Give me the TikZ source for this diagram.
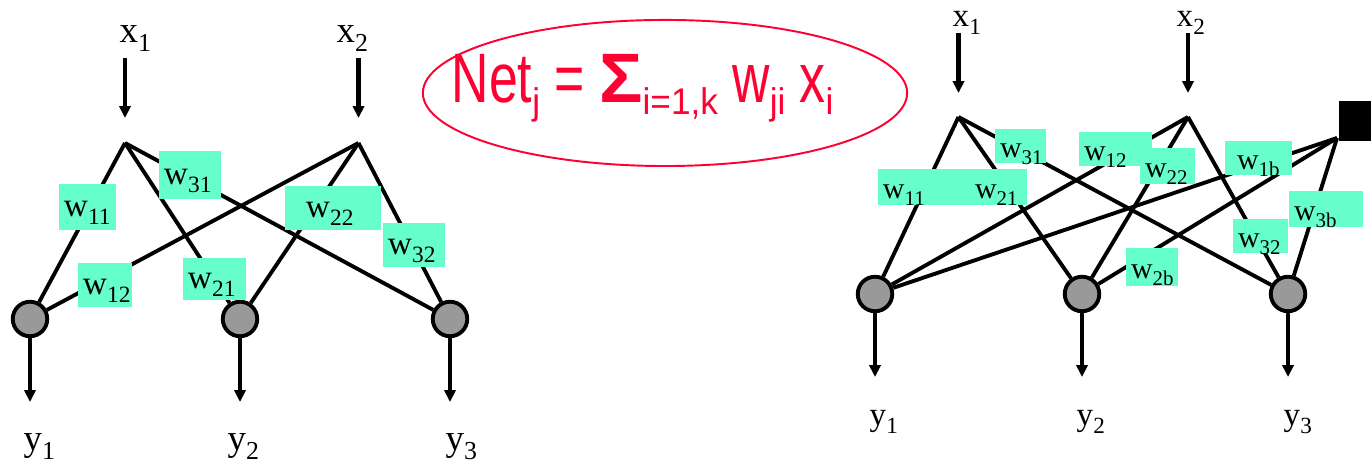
\documentclass[tikz,border=0pt]{standalone}
\usepackage{fontspec}
\setmainfont{Liberation Serif}
\newfontfamily\arialf{Liberation Sans}
\usetikzlibrary{arrows.meta}
\definecolor{wgreen}{RGB}{102,255,204}
\definecolor{fred}{RGB}{255,0,51}
\definecolor{ngray}{RGB}{153,153,153}
\newcommand\dn[1]{\raisebox{-0.23em}{\scalebox{0.7}{#1}}}
\newcommand\fsub[1]{\raisebox{-0.17em}{\scalebox{0.68}[0.53]{#1}}}
\begin{document}
\begin{tikzpicture}[x=0.01cm,y=-0.01cm,
  edge/.style={line width=1.1pt},
  arr/.style={line width=1.2pt,-{Triangle[length=3.4pt,width=3.2pt]}},
  neuron/.style={circle,draw=black,line width=1.1pt,fill=ngray,minimum size=0.345cm,inner sep=0pt},
  llab/.style={inner sep=0pt,anchor=base west,font=\fontsize{10.5}{12}\selectfont},
  rlab/.style={inner sep=0pt,anchor=base west,font=\fontsize{9.4}{11}\selectfont},
  wl/.style={fill=wgreen,inner ysep=0pt,inner xsep=0.05cm,align=left,text height=0.20cm,text depth=0pt,font=\fontsize{9.5}{11}\selectfont},
  wr/.style={wl,text height=0.24cm,font=\fontsize{8.5}{10}\selectfont}]
\useasboundingbox (0,0) rectangle (1371,462);

% ---------------- left network ----------------
\coordinate (lp1) at (125,143);
\coordinate (lp2) at (358.5,143);
\coordinate (la1) at (125,58);  \coordinate (lb1) at (125,118);
\coordinate (la2) at (358.5,58);\coordinate (lb2) at (358.5,118);
\node[llab] (lx1) at (119,43) {x\dn{1}};
\node[llab] (lx2) at (336,43) {x\dn{2}};
\draw[arr] (la1) -- (lb1);
\draw[arr] (la2) -- (lb2);
\node[neuron] (ln1) at (30,319) {};
\node[neuron] (ln2) at (240,319) {};
\node[neuron] (ln3) at (450,319) {};
\foreach \p in {lp1,lp2}{\foreach \n in {ln1,ln2,ln3}{\draw[edge] (\p) -- (\n);}}
\coordinate (lo1) at (30,402);
\coordinate (lo2) at (240,402);
\coordinate (lo3) at (450,402);
\draw[arr] (ln1) -- (lo1);
\draw[arr] (ln2) -- (lo2);
\draw[arr] (ln3) -- (lo3);
\node[llab] (ly1) at (23,451) {y\dn{1}};
\node[llab] (ly2) at (227,451) {y\dn{2}};
\node[llab] (ly3) at (445,451) {y\dn{3}};
\node[wl,text width=0.47cm,minimum height=0.46cm] (lw11) at (87.5,207) {w\dn{11}};
\node[wl,text width=0.52cm,minimum height=0.48cm] (lw31) at (190,175) {w\dn{31}};
\node[wl,inner xsep=0.21cm,text width=0.54cm,minimum height=0.44cm] (lw22) at (333,208) {w\dn{22}};
\node[wl,text width=0.52cm,minimum height=0.44cm] (lw32) at (414,245) {w\dn{32}};
\node[wl,text width=0.44cm,minimum height=0.44cm] (lw12) at (105,285) {w\dn{12}};
\node[wl,text width=0.53cm,minimum height=0.42cm] (lw21) at (214.5,279) {w\dn{21}};

% ---------------- formula ----------------
\draw[fred,line width=0.55pt] (665,93) ellipse [x radius=2.42cm,y radius=0.73cm];
\node[anchor=base west,inner sep=0pt,text=fred,font=\arialf\fontsize{19.9}{22}\selectfont] (net) at (451,103)
  {\scalebox{0.74}[1]{Net\fsub{j} = \scalebox{1.4}[1]{\textbf{Σ}}\fsub{i=1,k} w\fsub{ji} x\fsub{i}}};

% ---------------- right network ----------------
\coordinate (rp1) at (958.5,117);
\coordinate (rp2) at (1188,117);
\coordinate (ra1) at (958.5,33);  \coordinate (rb1) at (958.5,93);
\coordinate (ra2) at (1188,33);   \coordinate (rb2) at (1188,93);
\node[rlab] (rx1) at (952,27) {x\dn{1}};
\node[rlab] (rx2) at (1176,27) {x\dn{2}};
\draw[arr] (ra1) -- (rb1);
\draw[arr] (ra2) -- (rb2);
\node[fill=black,inner sep=0pt,minimum width=0.32cm,minimum height=0.40cm] (bsq) at (1355,121) {};
\coordinate (pb) at (1337,138);
\node[neuron] (rn1) at (875,294) {};
\node[neuron] (rn2) at (1082,294) {};
\node[neuron] (rn3) at (1288,294) {};
\foreach \p in {rp1,rp2,pb}{\foreach \n in {rn1,rn2,rn3}{\draw[edge] (\p) -- (\n);}}
\coordinate (ro1) at (875,377);
\coordinate (ro2) at (1082,377);
\coordinate (ro3) at (1288,377);
\draw[arr] (rn1) -- (ro1);
\draw[arr] (rn2) -- (ro2);
\draw[arr] (rn3) -- (ro3);
\node[rlab] (ry1) at (869,426) {y\dn{1}};
\node[rlab] (ry2) at (1076,426) {y\dn{2}};
\node[rlab] (ry3) at (1283,426) {y\dn{3}};
\node[wr,text width=0.41cm,minimum height=0.34cm] (rw31) at (1020.5,146) {w\dn{31}};
\node[wr,text width=0.63cm,minimum height=0.34cm] (rw12) at (1115.5,149) {w\dn{12}};
\node[wr,text width=0.45cm,minimum height=0.36cm] (rw22) at (1167.5,166) {w\dn{22}};
\node[wr,inner xsep=0.12cm,text width=0.43cm,minimum height=0.34cm] (rw1b) at (1258.5,158) {w\dn{1b}};
\node[wr,text width=0.82cm,minimum height=0.36cm] (rw11) at (924,187) {w\dn{11}};
\node[wr,text width=0.47cm,minimum height=0.36cm] (rw21) at (998.5,187) {w\dn{21}};
\node[wr,text width=0.64cm,minimum height=0.36cm] (rw3b) at (1326,209) {w\dn{3b}};
\node[wr,text width=0.45cm,minimum height=0.34cm] (rw32) at (1260.5,236) {w\dn{32}};
\node[wr,text width=0.42cm,minimum height=0.38cm] (rw2b) at (1152,267) {w\dn{2b}};
\end{tikzpicture}
\end{document}
